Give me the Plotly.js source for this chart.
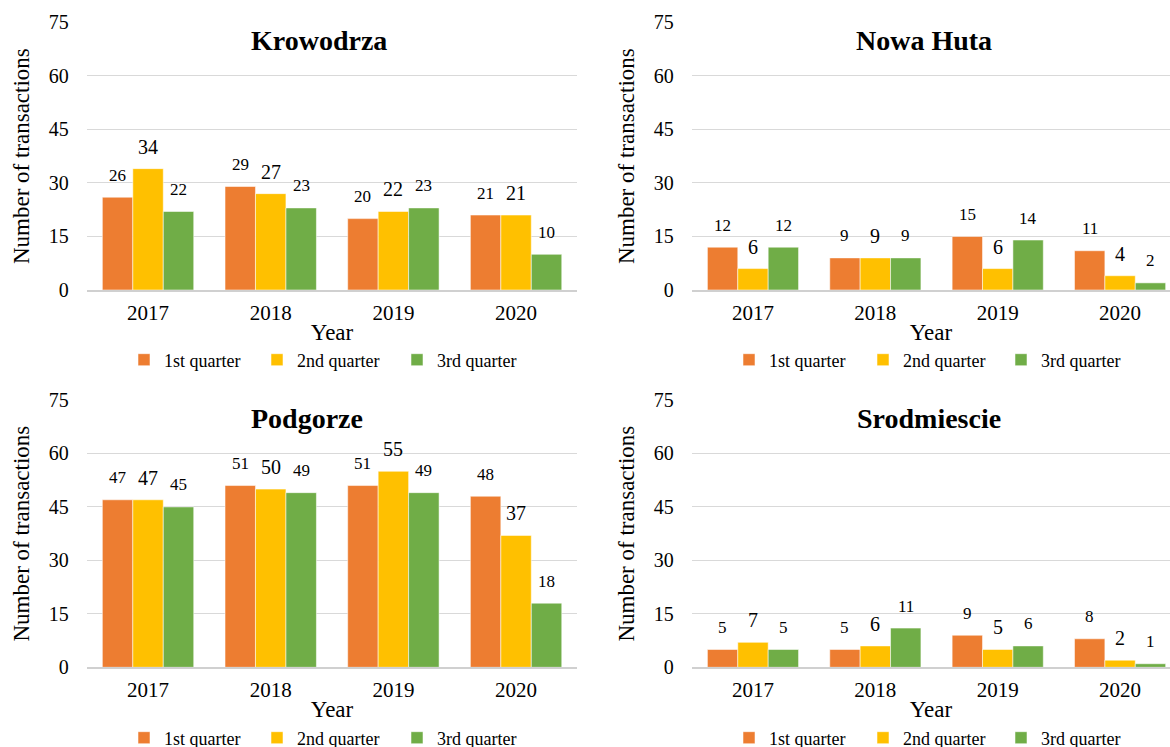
<!DOCTYPE html>
<html><head><meta charset="utf-8">
<script src="https://cdn.plot.ly/plotly-3.0.1.min.js"></script>
<style>html,body{margin:0;padding:0;background:#fff}#chart{width:1170px;height:747px}</style>
</head><body><div id="chart"></div>
<script>
// ---- data ----
const years = ['2017', '2018', '2019', '2020'];
const seriesNames = ['1st quarter', '2nd quarter', '3rd quarter'];
const districts = ['Krowodrza', 'Nowa Huta', 'Podgorze', 'Srodmiescie'];
const yTicks = [0, 15, 30, 45, 60, 75];

const krowodrzaQ1 = [26, 29, 20, 21];
const krowodrzaQ2 = [34, 27, 22, 21];
const krowodrzaQ3 = [22, 23, 23, 10];

const nowaHutaQ1 = [12, 9, 15, 11];
const nowaHutaQ2 = [6, 9, 6, 4];
const nowaHutaQ3 = [12, 9, 14, 2];

const podgorzeQ1 = [47, 51, 51, 48];
const podgorzeQ2 = [47, 50, 55, 37];
const podgorzeQ3 = [45, 49, 49, 18];

const srodmiescieQ1 = [5, 5, 9, 8];
const srodmiescieQ2 = [7, 6, 5, 2];
const srodmiescieQ3 = [5, 11, 6, 1];

const panelData = [
  [krowodrzaQ1, krowodrzaQ2, krowodrzaQ3],
  [nowaHutaQ1, nowaHutaQ2, nowaHutaQ3],
  [podgorzeQ1, podgorzeQ2, podgorzeQ3],
  [srodmiescieQ1, srodmiescieQ2, srodmiescieQ3]
];

// ---- styling / geometry ----
const W = 1170, H = 747;
const FONT = '"Liberation Serif", "Times New Roman", Times, serif';
const colors = ['#ED7D31', '#FFC000', '#70AD47'];
const labelSizes = [17, 20, 17];
const BARGAP = 0.255;

const geom = [
  {xl: 86.7, xr: 577.4, rangeEnd: 3.5, ytop: 22.3, y0: 290, tx: 319, ty: 40, legStart: 124, legY: 360, lw: [88, 95, 80]},
  {xl: 691.8, xr: 1170, rangeEnd: 3.408, ytop: 22.3, y0: 290, tx: 924, ty: 40, legStart: 729, legY: 360, lw: [89, 93, 80]},
  {xl: 86.7, xr: 577.4, rangeEnd: 3.5, ytop: 400, y0: 667.3, tx: 307, ty: 418, legStart: 124, legY: 738, lw: [88, 95, 80]},
  {xl: 691.8, xr: 1170, rangeEnd: 3.408, ytop: 400, y0: 667.3, tx: 929, ty: 418, legStart: 729, legY: 738, lw: [89, 93, 80]}
];

const traces = [];
const annotations = [];
const layout = {
  width: W, height: H,
  margin: {l: 0, r: 0, t: 0, b: 0, pad: 0, autoexpand: false},
  paper_bgcolor: '#fff', plot_bgcolor: 'rgba(0,0,0,0)',
  barmode: 'group', bargap: BARGAP, bargroupgap: 0,
  font: {family: FONT, color: '#000'},
  showlegend: true,
  hovermode: false,
  annotations: annotations
};

geom.forEach((g, p) => {
  const n = p + 1;
  const xid = n === 1 ? 'x' : 'x' + n;
  const yid = n === 1 ? 'y' : 'y' + n;
  const legId = n === 1 ? 'legend' : 'legend' + n;

  layout[n === 1 ? 'xaxis' : 'xaxis' + n] = {
    domain: [g.xl / W, g.xr / W],
    anchor: yid,
    type: 'category',
    range: [-0.5, g.rangeEnd],
    showgrid: false,
    zeroline: false,
    showline: true, linecolor: '#D0D0D0', linewidth: 1.5,
    ticks: '',
    tickfont: {family: FONT, size: 21, color: '#000'},
    ticklabelstandoff: 3,
    title: {text: 'Year', font: {family: FONT, size: 23, color: '#000'}, standoff: 0},
    fixedrange: true
  };
  layout[n === 1 ? 'yaxis' : 'yaxis' + n] = {
    domain: [(H - g.y0) / H, (H - g.ytop) / H],
    anchor: xid,
    range: [0, 75],
    tickmode: 'array', tickvals: yTicks, ticktext: yTicks.map(String),
    showgrid: true, gridcolor: '#D9D9D9', gridwidth: 1,
    zeroline: false, showline: false,
    ticks: '',
    tickfont: {family: FONT, size: 20, color: '#000'},
    ticklabelstandoff: 17,
    title: {text: 'Number of transactions', font: {family: FONT, size: 23, color: '#000'}, standoff: 12},
    fixedrange: true
  };
  layout[legId] = {
    orientation: 'h',
    x: g.legStart / W, xanchor: 'left',
    y: (H - g.legY) / H, yanchor: 'middle',
    font: {family: FONT, size: 18, color: '#000'},
    bgcolor: 'rgba(0,0,0,0)', borderwidth: 0,
    traceorder: 'normal', itemclick: false, itemdoubleclick: false
  };

  panelData[p].forEach((vals, s) => {
    traces.push({
      type: 'bar',
      x: years, y: vals,
      name: seriesNames[s],
      xaxis: xid, yaxis: yid,
      legend: legId,
      legendwidth: g.lw[s],
      marker: {color: colors[s], line: {color: 'rgba(255,255,255,0.7)', width: 0.75}},
      hoverinfo: 'skip'
    });
    // data labels above bars
    const off = (s - 1) * (1 - BARGAP) / 3;
    vals.forEach((v, i) => {
      annotations.push({
        xref: xid, yref: yid,
        x: i + off, y: v,
        text: String(v),
        showarrow: false,
        xanchor: 'center', yanchor: 'middle',
        yshift: 22,
        font: {family: FONT, size: labelSizes[s], color: '#000'}
      });
    });
  });

  // panel title
  annotations.push({
    xref: 'paper', yref: 'paper',
    x: g.tx / W, y: (H - g.ty) / H,
    text: '<b>' + districts[p] + '</b>',
    showarrow: false, xanchor: 'center', yanchor: 'middle',
    font: {family: FONT, size: 28, color: '#000'}
  });
});

Plotly.newPlot('chart', traces, layout, {displayModeBar: false, staticPlot: true});
</script>
</body></html>
